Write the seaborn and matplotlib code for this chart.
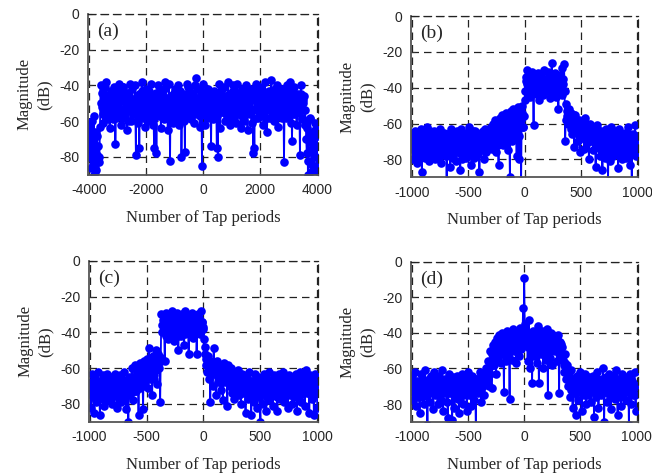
import numpy as np
import pandas as pd
import matplotlib
matplotlib.use("Agg")
import matplotlib.pyplot as plt
import seaborn as sns

# tap indices: main samples and the in-between samples
taps_a = np.arange(-4040, 4041, 40)
taps_a_mid = np.arange(-4020, 4021, 40)
taps_bcd = np.arange(-1000, 1001, 10)
taps_bcd_mid = np.arange(-995, 996, 10)

# magnitudes (dB)
mag_a = [
    -70, -80, -62, -75, -84, -57, -82, -87, -68, -96, -80,
    -40, -52, -61, -46, -57, -38, -55, -49, -64, -43,
    -50, -59, -41, -73, -47, -56, -39, -53, -62, -45,
    -41, -58, -50, -65, -44, -54, -39, -60, -48, -56,
    -40, -79, -51, -61, -75, -46, -38, -57, -49, -63,
    -42, -55, -60, -47, -39, -52, -62, -75, -45, -78,
    -40, -57, -48, -64, -43, -53, -59, -38, -50, -65,
    -39, -82, -46, -55, -61, -42, -51, -58, -40, -62,
    -44, -80, -53, -60, -77, -47, -39, -56, -42, -59,
    -45, -52, -61, -40, -36, -55, -48, -63, -43, -85,
    -39, -54, -62, -47, -42, -57, -50, -74, -44, -59,
    -43, -52, -75, -80, -39, -64, -46, -55, -41, -60,
    -48, -57, -38, -53, -62, -44, -40, -59, -51, -61,
    -39, -56, -48, -64, -42, -52, -60, -45, -40, -65,
    -46, -54, -42, -61, -78, -75, -39, -50, -58, -44,
    -41, -57, -49, -62, -38, -53, -66, -45, -43, -58,
    -37, -51, -60, -44, -55, -40, -63, -48, -42, -57,
    -42, -83, -50, -58, -40, -54, -38, -61, -71, -47,
    -41, -56, -62, -45, -52, -79, -40, -59, -48, -62,
    -60, -78, -90, -68, -58, -84, -72, -93, -65, -80, -88, -62,
]
mag_a_mid = [
    -64, -77, -86, -60, -72, -90, -66, -79, -74, -83, -63,
    -50, -44, -56, -41, -53, -47, -59, -51, -45, -54,
    -55, -46, -52, -58, -43, -50, -57, -48, -53, -41,
    -49, -55, -44, -52, -60, -47, -51, -42, -56, -50,
    -53, -47, -57, -45, -50, -54, -43, -58, -46, -52,
    -48, -56, -43, -51, -55, -46, -58, -49, -44, -53,
    -51, -45, -55, -49, -57, -42, -52, -47, -56, -48,
    -54, -46, -50, -58, -44, -53, -47, -55, -51, -43,
    -49, -57, -45, -52, -48, -55, -41, -51, -58, -46,
    -53, -44, -56, -50, -47, -54, -42, -57, -49, -52,
    -46, -55, -51, -43, -58, -48, -53, -45, -56, -50,
    -52, -47, -57, -44, -54, -49, -42, -55, -51, -46,
    -55, -50, -45, -58, -48, -53, -43, -56, -47, -52,
    -44, -54, -51, -47, -57, -45, -52, -49, -55, -42,
    -50, -56, -46, -53, -59, -48, -44, -54, -51, -57,
    -47, -52, -43, -55, -50, -46, -58, -49, -54, -45,
    -53, -48, -56, -42, -51, -55, -47, -52, -45, -58,
    -49, -54, -46, -57, -43, -50, -53, -48, -56, -44,
    -51, -47, -55, -49, -53, -45, -58, -50, -46, -54,
    -70, -64, -82, -59, -76, -88, -66, -73, -61, -85, -68,
]

mag_b = [
    -66, -80, -70, -64, -78, -82, -68, -75, -63, -87,
    -72, -65, -79, -70, -62, -81, -68, -74, -66, -77,
    -64, -80, -71, -67, -76, -63, -82, -69, -73, -65,
    -78, -92, -66, -74, -84, -63, -79, -70, -67, -81,
    -64, -76, -71, -86, -63, -80, -68, -73, -65, -78,
    -70, -62, -75, -83, -66, -79, -64, -72, -68, -77,
    -87, -65, -74, -69, -80, -63, -76, -67, -72, -65,
    -62, -74, -60, -71, -58, -76, -61, -83, -57, -70,
    -55, -72, -59, -68, -54, -75, -56, -90, -53, -70,
    -52, -66, -56, -78, -51, -80, -55, -92, -50, -62,
    -47, -36, -30, -40, -33, -45, -38, -31, -61, -43,
    -35, -41, -32, -47, -37, -33, -44, -30, -39, -36,
    -42, -31, -38, -46, -26, -34, -40, -32, -45, -37,
    -52, -33, -41, -29, -35, -27, -70, -49, -56, -52,
    -60, -54, -66, -57, -73, -55, -62, -70, -58, -76,
    -59, -68, -62, -74, -57, -71, -64, -80, -60, -67,
    -63, -75, -65, -84, -61, -72, -68, -78, -64, -86,
    -66, -79, -63, -72, -92, -68, -81, -62, -75, -70,
    -64, -77, -69, -85, -63, -74, -80, -67, -72, -65,
    -79, -68, -62, -83, -70, -95, -66, -74, -61, -78,
    -67,
]
mag_b_mid = [
    -72, -68, -75, -70, -65, -73, -79, -67, -71, -76,
    -69, -74, -66, -78, -71, -68, -64, -76, -70, -73,
    -75, -68, -72, -65, -79, -70, -74, -67, -77, -69,
    -71, -66, -76, -69, -73, -64, -78, -68, -72, -75,
    -68, -73, -65, -77, -70, -74, -67, -71, -79, -66,
    -73, -67, -70, -76, -64, -72, -78, -69, -74, -66,
    -71, -75, -68, -64, -73, -70, -66, -74, -63, -69,
    -67, -64, -70, -62, -68, -65, -72, -60, -66, -63,
    -63, -58, -66, -61, -69, -57, -64, -60, -67, -59,
    -61, -57, -64, -55, -60, -67, -58, -54, -62, -56,
    -42, -34, -38, -44, -36, -40, -35, -41, -37, -39,
    -38, -44, -36, -40, -34, -42, -37, -39, -35, -41,
    -36, -40, -33, -43, -37, -39, -35, -41, -38, -42,
    -37, -40, -35, -44, -38, -42, -58, -53, -60, -55,
    -57, -63, -59, -55, -64, -61, -58, -66, -62, -60,
    -64, -60, -67, -62, -69, -63, -66, -61, -70, -65,
    -68, -65, -71, -67, -63, -70, -74, -66, -72, -69,
    -70, -74, -67, -76, -71, -68, -73, -65, -78, -72,
    -71, -68, -75, -70, -66, -77, -72, -69, -74, -67,
    -73, -70, -66, -76, -72, -68, -75, -71, -69, -74,
]

mag_c = [
    -70, -82, -63, -76, -85, -66, -79, -62, -73, -86,
    -68, -77, -64, -81, -71, -63, -78, -67, -74, -65,
    -80, -69, -63, -75, -82, -66, -72, -64, -79, -70,
    -62, -76, -83, -68, -90, -65, -74, -60, -78, -67,
    -58, -73, -62, -86, -57, -70, -60, -83, -56, -68,
    -55, -71, -49, -66, -58, -75, -53, -64, -50, -69,
    -52, -60, -79, -30, -40, -34, -56, -29, -38, -44,
    -33, -41, -28, -37, -45, -31, -39, -29, -50, -35,
    -42, -30, -36, -47, -28, -34, -40, -52, -31, -37,
    -29, -43, -33, -38, -52, -30, -36, -41, -28, -34,
    -38, -48, -55, -62, -53, -66, -79, -57, -70, -49,
    -60, -75, -56, -68, -58, -72, -61, -78, -57, -66,
    -63, -81, -58, -70, -60, -74, -62, -77, -64, -69,
    -61, -75, -66, -80, -63, -72, -68, -85, -64, -77,
    -62, -74, -86, -67, -79, -63, -70, -82, -65, -76,
    -90, -68, -80, -63, -74, -84, -66, -78, -62, -71,
    -67, -81, -64, -75, -70, -84, -63, -77, -68, -73,
    -62, -79, -71, -66, -82, -64, -75, -69, -80, -65,
    -72, -63, -84, -68, -76, -62, -79, -70, -65, -81,
    -61, -74, -67, -85, -64, -77, -70, -86, -63, -72,
    -82,
]
mag_c_mid = [
    -72, -68, -75, -70, -66, -78, -71, -67, -74, -69,
    -73, -66, -76, -70, -68, -74, -65, -72, -77, -69,
    -71, -75, -68, -73, -66, -77, -70, -74, -67, -72,
    -74, -69, -71, -66, -75, -70, -68, -72, -65, -73,
    -66, -62, -69, -64, -71, -63, -67, -61, -70, -64,
    -62, -58, -65, -60, -63, -56, -66, -59, -61, -57,
    -58, -54, -56, -36, -33, -39, -35, -42, -32, -38,
    -37, -33, -40, -35, -31, -38, -34, -42, -36, -32,
    -35, -39, -33, -41, -36, -31, -38, -34, -40, -37,
    -33, -38, -35, -31, -40, -36, -32, -39, -34, -37,
    -44, -52, -58, -55, -60, -56, -62, -58, -61, -57,
    -63, -59, -65, -61, -67, -60, -64, -62, -68, -63,
    -66, -62, -69, -64, -67, -71, -65, -68, -63, -70,
    -68, -72, -66, -70, -74, -67, -71, -65, -73, -69,
    -71, -67, -75, -70, -73, -68, -76, -69, -72, -74,
    -70, -74, -67, -72, -69, -76, -71, -68, -75, -70,
    -73, -69, -71, -67, -76, -70, -74, -68, -72, -66,
    -71, -75, -68, -73, -70, -66, -74, -71, -69, -76,
    -68, -73, -70, -66, -75, -71, -69, -74, -67, -72,
    -70, -67, -74, -71, -68, -73, -66, -75, -70, -69,
]

mag_d = [
    -64, -78, -70, -62, -81, -67, -74, -85, -63, -76,
    -69, -80, -61, -73, -92, -66, -79, -64, -71, -83,
    -62, -75, -68, -80, -64, -72, -78, -61, -84, -69,
    -66, -79, -88, -63, -74, -70, -89, -65, -82, -72,
    -64, -77, -85, -68, -73, -63, -80, -71, -66, -84,
    -62, -75, -69, -81, -64, -78, -71, -93, -66, -74,
    -70, -62, -79, -68, -75, -64, -60, -66, -56, -70,
    -50, -71, -47, -58, -45, -63, -43, -54, -41, -57,
    -40, -52, -73, -44, -56, -39, -48, -77, -42, -55,
    -38, -50, -43, -57, -40, -53, -37, -48, -41, -26,
    -9, -35, -44, -56, -33, -60, -42, -68, -39, -53,
    -41, -57, -36, -68, -45, -52, -39, -60, -43, -55,
    -38, -75, -46, -54, -40, -58, -44, -50, -42, -56,
    -41, -74, -45, -53, -48, -62, -52, -66, -58, -70,
    -63, -76, -61, -82, -66, -72, -86, -64, -78, -68,
    -62, -84, -70, -75, -63, -80, -67, -73, -65, -79,
    -71, -64, -87, -68, -76, -62, -82, -69, -74, -66,
    -60, -90, -72, -65, -79, -63, -75, -83, -68, -71,
    -64, -77, -61, -86, -70, -66, -81, -63, -74, -69,
    -78, -65, -72, -92, -63, -80, -67, -75, -62, -84,
    -70,
]
mag_d_mid = [
    -71, -67, -74, -69, -72, -76, -68, -73, -70, -66,
    -73, -68, -75, -70, -67, -72, -74, -69, -66, -71,
    -69, -73, -66, -71, -75, -68, -70, -74, -67, -72,
    -72, -68, -74, -70, -66, -73, -71, -67, -75, -69,
    -70, -74, -67, -72, -69, -75, -68, -71, -73, -66,
    -71, -67, -73, -70, -74, -68, -72, -66, -70, -73,
    -68, -72, -66, -70, -64, -68, -62, -66, -60, -63,
    -56, -52, -58, -50, -55, -48, -53, -50, -47, -51,
    -46, -50, -44, -52, -47, -43, -51, -45, -49, -44,
    -45, -42, -48, -44, -40, -47, -43, -49, -41, -46,
    -38, -45, -41, -48, -43, -46, -40, -50, -44, -47,
    -45, -49, -42, -51, -44, -47, -40, -50, -43, -48,
    -46, -42, -50, -44, -48, -41, -49, -45, -47, -43,
    -47, -50, -46, -52, -55, -58, -57, -62, -63, -66,
    -68, -72, -66, -70, -74, -67, -71, -69, -73, -65,
    -70, -74, -67, -72, -69, -75, -68, -71, -66, -73,
    -72, -68, -74, -70, -66, -73, -71, -67, -75, -69,
    -68, -73, -70, -66, -74, -71, -69, -75, -67, -72,
    -71, -67, -74, -69, -72, -76, -68, -70, -73, -66,
    -70, -73, -67, -72, -69, -74, -68, -71, -75, -70,
]

panel_names = ["(a)", "(b)", "(c)", "(d)"]
ticks_a = [-4000, -2000, 0, 2000, 4000]
ticks_bcd = [-1000, -500, 0, 500, 1000]
y_ticks = [0, -20, -40, -60, -80]

sns.set_style("white")
plt.rcParams["axes.unicode_minus"] = False
plt.rcParams["path.simplify"] = False
serif = ["Liberation Serif", "DejaVu Serif"]
sans = ["Liberation Sans", "DejaVu Sans"]

fig = plt.figure(figsize=(6.52, 4.74), dpi=100)
boxes = [
    [0.135, 0.631, 0.353, 0.340],
    [0.630, 0.626, 0.349, 0.340],
    [0.136, 0.110, 0.352, 0.340],
    [0.630, 0.110, 0.348, 0.338],
]
panels = [
    (taps_a, mag_a, taps_a_mid, mag_a_mid, ticks_a, (-4040, 4040)),
    (taps_bcd, mag_b, taps_bcd_mid, mag_b_mid, ticks_bcd, (-1008, 1008)),
    (taps_bcd, mag_c, taps_bcd_mid, mag_c_mid, ticks_bcd, (-1008, 1008)),
    (taps_bcd, mag_d, taps_bcd_mid, mag_d_mid, ticks_bcd, (-1008, 1008)),
]

for box, (t1, m1, t2, m2, xt, xl), name in zip(boxes, panels, panel_names):
    ax = fig.add_axes(box)
    df = pd.DataFrame({"tap": np.concatenate([t1, t2]),
                       "mag": np.concatenate([m1, m2])})
    df = df.sort_values("tap")
    sns.lineplot(data=df, x="tap", y="mag", ax=ax, color="#0000ff",
                 linewidth=1.3, marker="o", markersize=6.2,
                 markeredgewidth=0, estimator=None, sort=False)
    ax.set_xlim(*xl)
    ax.set_ylim(-90, 0)
    ax.set_xticks(xt)
    ax.set_yticks(y_ticks)
    ax.set_axisbelow(True)
    ax.grid(True, color="#222222", linestyle=(0, (6, 4)), linewidth=0.9)
    for s in ["top", "right"]:
        ax.spines[s].set_linestyle((0, (6, 4)))
        ax.spines[s].set_color("#222222")
        ax.spines[s].set_linewidth(0.9)
    for s in ["left", "bottom"]:
        ax.spines[s].set_color("#555555")
        ax.spines[s].set_linewidth(1.3)
    ax.tick_params(direction="in", length=3, width=0.8, color="#333333",
                   labelsize=10, pad=6, left=True, bottom=True)
    for lab in ax.get_xticklabels() + ax.get_yticklabels():
        lab.set_family(sans)
    ax.set_xlabel("Number of Tap periods", family=serif, fontsize=12, labelpad=9)
    ax.set_ylabel("Magnitude\n(dB)", family=serif, fontsize=12,
                  linespacing=1.3, labelpad=5)
    ax.text(0.04, 0.89, name, transform=ax.transAxes, family=serif,
            fontsize=14, va="center", ha="left")

fig.savefig("out.png", dpi=100)
